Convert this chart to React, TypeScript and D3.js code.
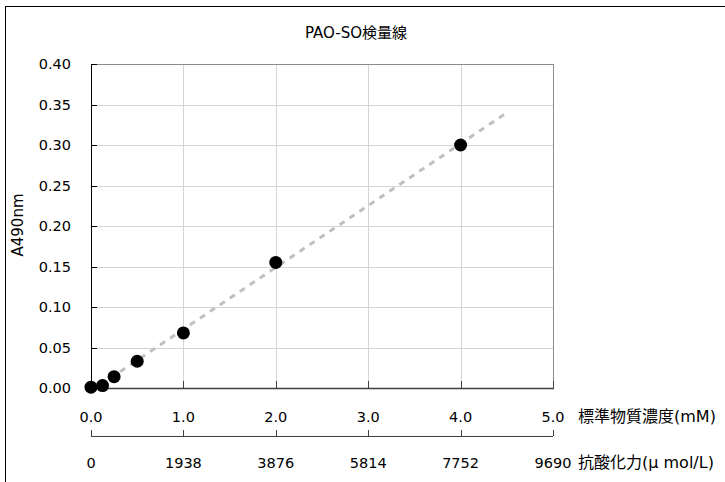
import React, { useEffect, useRef } from "react";
import * as d3 from "d3";

const concentration = [0, 0.125, 0.25, 0.5, 1.0, 2.0, 4.0];
const absorbance = [0.001, 0.003, 0.014, 0.033, 0.068, 0.155, 0.3];
const xTicks = [0, 1, 2, 3, 4, 5];
const yTicks = [0, 0.05, 0.1, 0.15, 0.2, 0.25, 0.3, 0.35, 0.4];
const capacityLabels = ["0", "1938", "3876", "5814", "7752", "9690"];

const FONT = "'DejaVu Sans', 'Noto Sans CJK JP', sans-serif";

const App = () => {
  const ref = useRef<SVGSVGElement>(null);

  useEffect(() => {
    const svg = d3.select(ref.current);
    svg.selectAll("*").remove();

    const left = 91, right = 553, top = 64, bottom = 388;
    const x = d3.scaleLinear().domain([0, 5]).range([left, right]);
    const y = d3.scaleLinear().domain([0, 0.4]).range([bottom, top]);

    // chart frame
    svg.append("rect")
      .attr("x", 5.5).attr("y", 6.5)
      .attr("width", 730).attr("height", 490)
      .attr("fill", "white").attr("stroke", "#000").attr("stroke-width", 1);

    svg.append("text")
      .attr("x", 356).attr("y", 38)
      .attr("text-anchor", "middle")
      .attr("font-size", 15).attr("font-family", FONT)
      .text("PAO-SO検量線");

    // grid
    const g = svg.append("g");
    g.selectAll("line.h").data(yTicks.slice(1)).enter().append("line")
      .attr("x1", left).attr("x2", right)
      .attr("y1", (d) => Math.round(y(d)) + 0.5).attr("y2", (d) => Math.round(y(d)) + 0.5)
      .attr("stroke", "#d4d4d4");
    g.selectAll("line.v").data(xTicks.slice(1)).enter().append("line")
      .attr("y1", top).attr("y2", bottom)
      .attr("x1", (d) => Math.round(x(d)) + 0.5).attr("x2", (d) => Math.round(x(d)) + 0.5)
      .attr("stroke", (d) => (d === 5 ? "#8c8c8c" : "#d4d4d4"));
    g.append("line")
      .attr("x1", left).attr("x2", right).attr("y1", top + 0.5).attr("y2", top + 0.5)
      .attr("stroke", "#8c8c8c");

    // axes
    g.append("line")
      .attr("x1", left + 0.5).attr("x2", left + 0.5).attr("y1", top).attr("y2", bottom)
      .attr("stroke", "#000");
    g.append("line")
      .attr("x1", left).attr("x2", right + 1).attr("y1", bottom + 0.5).attr("y2", bottom + 0.5)
      .attr("stroke", "#404040").attr("stroke-width", 1.5);

    g.selectAll("line.yt").data(yTicks).enter().append("line")
      .attr("x1", left).attr("x2", left + 6)
      .attr("y1", (d) => Math.round(y(d)) + 0.5).attr("y2", (d) => Math.round(y(d)) + 0.5)
      .attr("stroke", "#000");
    g.selectAll("line.xt").data(xTicks).enter().append("line")
      .attr("x1", (d) => Math.round(x(d)) + 0.5).attr("x2", (d) => Math.round(x(d)) + 0.5)
      .attr("y1", bottom).attr("y2", bottom - 7)
      .attr("stroke", "#404040");

    g.selectAll("text.yl").data(yTicks).enter().append("text")
      .attr("x", 71).attr("y", (d) => y(d) + 5)
      .attr("text-anchor", "end")
      .attr("font-size", 14.5).attr("font-family", FONT)
      .text((d) => d.toFixed(2));
    g.selectAll("text.xl").data(xTicks).enter().append("text")
      .attr("x", (d) => x(d)).attr("y", 422)
      .attr("text-anchor", "middle")
      .attr("font-size", 14.5).attr("font-family", FONT)
      .text((d) => d.toFixed(1));

    g.append("text")
      .attr("transform", "translate(23,225) rotate(-90)")
      .attr("text-anchor", "middle")
      .attr("font-size", 15).attr("font-family", FONT)
      .text("A490nm");

    g.append("text")
      .attr("x", 578).attr("y", 422)
      .attr("font-size", 16).attr("font-family", FONT)
      .text("標準物質濃度(mM)");

    // secondary axis (antioxidant capacity)
    g.append("line")
      .attr("x1", left).attr("x2", right).attr("y1", 436.5).attr("y2", 436.5)
      .attr("stroke", "#404040").attr("stroke-width", 1.2);
    g.selectAll("line.x2t").data(xTicks).enter().append("line")
      .attr("x1", (d) => Math.round(x(d)) + 0.5).attr("x2", (d) => Math.round(x(d)) + 0.5)
      .attr("y1", 436).attr("y2", 430)
      .attr("stroke", "#404040");
    g.selectAll("text.x2l").data(capacityLabels).enter().append("text")
      .attr("x", (d, i) => x(xTicks[i])).attr("y", 468)
      .attr("text-anchor", "middle")
      .attr("font-size", 14.5).attr("font-family", FONT)
      .text((d) => d);
    g.append("text")
      .attr("x", 578).attr("y", 468)
      .attr("font-size", 16).attr("font-family", FONT)
      .text("抗酸化力(μ mol/L)");

    // linear trend line (least squares)
    const mx = d3.mean(concentration)!;
    const my = d3.mean(absorbance)!;
    const sxy = d3.sum(concentration, (c, i) => (c - mx) * (absorbance[i] - my));
    const sxx = d3.sum(concentration, (c) => (c - mx) ** 2);
    const slope = sxy / sxx;
    const intercept = my - slope * mx;
    const trend = [0.1, 4.5].map((c) => [x(c), y(intercept + slope * c)] as [number, number]);
    g.append("path")
      .attr("d", d3.line()(trend))
      .attr("fill", "none")
      .attr("stroke", "#c0c0c0").attr("stroke-width", 3)
      .attr("stroke-dasharray", "6,6");

    g.selectAll("circle").data(concentration).enter().append("circle")
      .attr("cx", (d) => x(d)).attr("cy", (d, i) => y(absorbance[i]))
      .attr("r", 6.5)
      .attr("fill", "#000");
  }, []);

  return (
    <svg
      ref={ref}
      width={725}
      height={482}
      style={{ position: "absolute", left: 0, top: 0, display: "block" }}
    />
  );
};

export default App;
